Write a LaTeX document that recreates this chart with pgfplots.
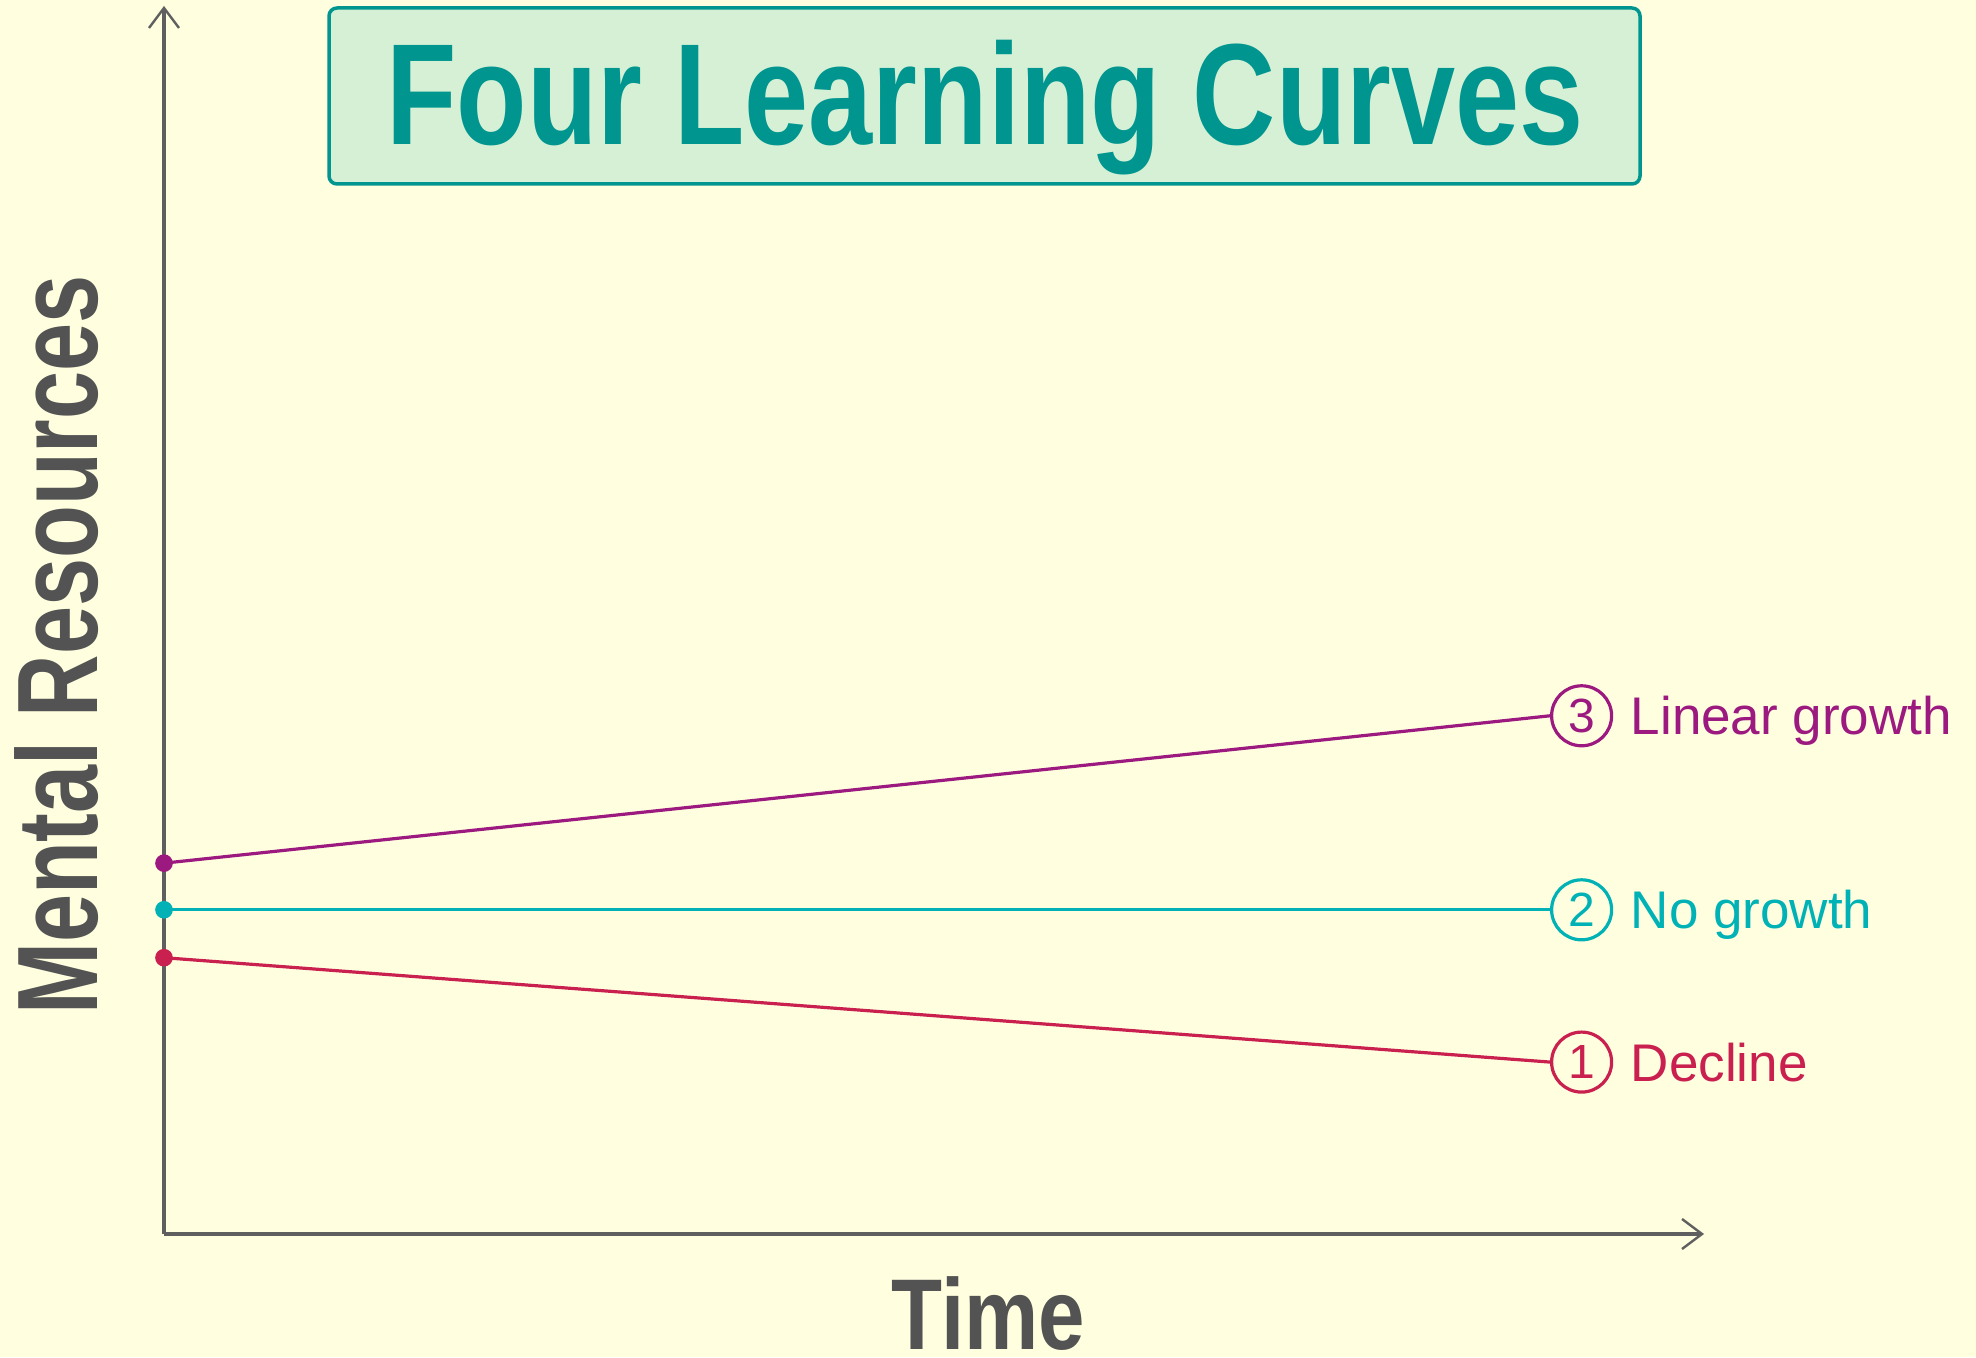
\documentclass[border=0pt]{standalone}
\usepackage{pgfplots}
\pgfplotsset{compat=1.18}
\usepackage{fontspec}
\setmainfont{Liberation Sans}
\newfontfamily\titlefont[FakeStretch=0.80]{Liberation Sans}
\newfontfamily\ylabfont[FakeStretch=0.755]{Liberation Sans}
\newfontfamily\xlabfont[FakeStretch=0.83]{Liberation Sans}
\usetikzlibrary{arrows.meta}
\definecolor{bg}{HTML}{FFFFE0}
\definecolor{axgray}{HTML}{5F5F5F}
\definecolor{labgray}{HTML}{535353}
\definecolor{teal1}{HTML}{00968F}
\definecolor{boxfill}{HTML}{D6F0D6}
\definecolor{purp}{HTML}{9C1A80}
\definecolor{cyan1}{HTML}{00B2B5}
\definecolor{red1}{HTML}{C9204F}
\tikzset{
  lc/.style={line width=1.6pt, mark=*, mark options={draw=none, fill=#1}, mark size=3.6pt, color=#1},
  numcirc/.style={pos=1, anchor=west, circle, draw=#1, line width=1.6pt, minimum size=30pt, inner sep=0pt, text=#1, font=\fontsize{24pt}{24pt}\selectfont},
}
\begin{document}
\begin{tikzpicture}
\fill[bg] (0,0) rectangle (988pt,678.5pt);
\draw[teal1, line width=1.75pt, fill=boxfill, rounded corners=4pt] (164.5pt,586.5pt) rectangle (820pt,674.5pt);
\node[anchor=base, inner sep=0pt, text=teal1] at (492.5pt,606pt) {\titlefont\bfseries\fontsize{72pt}{80pt}\selectfont Four Learning Curves};
\node[anchor=base, rotate=90, inner sep=0pt, text=labgray] at (48.5pt,356pt) {\ylabfont\bfseries\fontsize{57.25pt}{60pt}\selectfont Mental Resources};
\node[anchor=base, inner sep=0pt, text=labgray] at (494.25pt,4pt) {\xlabfont\bfseries\fontsize{50.3pt}{55pt}\selectfont Time};
\begin{axis}[
  at={(82pt,61.5pt)}, anchor=south west,
  scale only axis, width=770pt, height=614pt,
  xmin=0, xmax=100, ymin=0, ymax=100,
  axis lines=left, clip=false,
  xtick=\empty, ytick=\empty,
  axis line style={draw=axgray, line width=1.6pt, -{Straight Barb[length=10pt,width=15pt,line width=1.2pt]}},
]
\addplot[lc=purp, mark indices={1}]
  coordinates {(0,30.2) (90,42.2)}
  node[numcirc=purp,
       label={[anchor=base west, inner sep=0pt, xshift=8pt, yshift=-9.5pt, text=purp, font=\fontsize{26.5pt}{28pt}\selectfont]east:Linear growth}] {3};
\addplot[lc=cyan1, mark indices={1}]
  coordinates {(0,26.4) (90,26.4)}
  node[numcirc=cyan1,
       label={[anchor=base west, inner sep=0pt, xshift=8pt, yshift=-9.5pt, text=cyan1, font=\fontsize{26.5pt}{28pt}\selectfont]east:No growth}] {2};
\addplot[lc=red1, mark indices={1}]
  coordinates {(0,22.5) (90,14.0)}
  node[numcirc=red1,
       label={[anchor=base west, inner sep=0pt, xshift=8pt, yshift=-9.5pt, text=red1, font=\fontsize{26.5pt}{28pt}\selectfont]east:Decline}] {1};
\end{axis}
\pgfresetboundingbox
\useasboundingbox (0,0) rectangle (988pt,678.5pt);
\end{tikzpicture}
\end{document}
